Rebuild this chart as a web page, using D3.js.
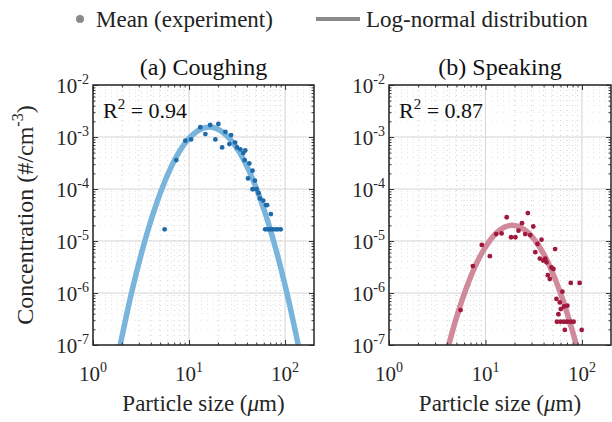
<!DOCTYPE html>
<html>
<head>
<meta charset="utf-8">
<script src="https://cdn.jsdelivr.net/npm/d3@7"></script>
<style>
  body { margin: 0; background: #fff; }
  svg { display: block; font-family: "Liberation Serif", "Times New Roman", serif; }
</style>
</head>
<body>
<svg id="chart" width="612" height="422"></svg>
<script>
const coughX = [5.57, 7.37, 9.14, 10.5, 13.1, 14.8, 16.6, 18.8, 20.2, 22.1, 23.9, 26.3, 27.4, 30.1, 31.6,
  34.2, 36.7, 37.9, 38.5, 41.1, 42.4, 45.8, 45.8, 48.5, 50.4, 52.9, 54.7, 59.2, 63.1, 65.1, 71.1,
  62, 66, 70, 74, 79, 84, 90];
const coughY = [1.68e-5, 3.6e-4, 8.5e-4, 9.0e-4, 1.54e-3, 1.14e-3, 1.70e-3, 9.0e-4, 1.78e-3, 6.3e-4, 1.26e-3, 7.3e-4, 1.09e-3, 7.8e-4, 6.3e-4,
  5.8e-4, 4.9e-4, 3.6e-4, 5.5e-4, 1.6e-4, 3.1e-4, 2.25e-4, 9.9e-5, 1.45e-4, 9.9e-5, 8.3e-5, 6.6e-5, 6.0e-5, 4.9e-5, 4.9e-5, 3.3e-5,
  1.68e-5, 1.68e-5, 1.68e-5, 1.68e-5, 1.68e-5, 1.68e-5, 1.68e-5];

const speakX = [5.52, 7.4, 9.16, 11.1, 12.9, 14.7, 16.6, 18.4, 20.4, 22.0, 23.9, 25.8, 27.5, 29.1, 31.3,
  32.8, 34.6, 36.6, 38.1, 39.6, 41.6, 42.9, 44.3, 46.4, 48.3, 50.6, 52.7, 54.4, 58.9, 62.7, 57.0, 60.4, 65.2, 70.6,
  55, 60, 65, 70, 76, 82, 66.4, 76.5, 94.6, 99.3];
const speakY = [4.7e-7, 3.3e-6, 8.4e-6, 5.1e-6, 1.36e-5, 1.4e-5, 2.86e-5, 1.18e-5, 1.18e-5, 1.58e-5, 2.2e-5, 1.36e-5, 3.45e-5, 1.3e-5, 1.9e-5,
  6.1e-6, 8.8e-6, 4.6e-6, 1.06e-5, 4.2e-6, 4.6e-6, 3.9e-6, 2.2e-6, 1.86e-6, 3.1e-6, 2.9e-6, 7.0e-6, 7.7e-7, 6.6e-7, 1.06e-6, 3.9e-7, 4.9e-7, 5.5e-7, 5.7e-7,
  2.8e-7, 2.8e-7, 2.8e-7, 2.8e-7, 2.8e-7, 2.8e-7, 1.95e-7, 1.56e-6, 1.56e-6, 1.95e-7];

// fitted log-normal curves
const coughFitX = [1.905, 2.51, 3.16, 3.98, 5.01, 6.31, 7.94, 10, 12.6, 16.2, 20, 25.1, 31.6, 39.8, 50.1, 63.1, 79.4, 100, 126, 138];
const coughFitY = [9.3e-8, 9.8e-7, 5.4e-6, 2.37e-5, 8.3e-5, 2.34e-4, 5.26e-4, 9.4e-4, 1.35e-3, 1.55e-3, 1.41e-3, 1.03e-3, 6.0e-4, 2.8e-4, 1.04e-4, 3.1e-5, 7.4e-6, 1.4e-6, 2.1e-7, 9.3e-8];
const speakFitX = [4.17, 5.01, 6.31, 7.94, 10, 12.6, 15.8, 19.1, 25.1, 31.6, 39.8, 50.1, 63.1, 79.4, 89.1];
const speakFitY = [1.02e-7, 3.4e-7, 1.22e-6, 3.47e-6, 7.7e-6, 1.35e-5, 1.85e-5, 2.0e-5, 1.67e-5, 1.11e-5, 5.8e-6, 2.35e-6, 7.5e-7, 1.9e-7, 8.7e-8];

const xMajor = [1, 10, 100];
const yMajor = [1e-7, 1e-6, 1e-5, 1e-4, 1e-3, 1e-2];

const svg = d3.select("#chart");

function minors(majors, hi) {
  const out = [];
  majors.forEach(m => { for (let k = 2; k <= 9; k++) if (m * k < hi) out.push(m * k); });
  return out;
}
const xMinor = minors(xMajor, 200);
const yMinor = minors(yMajor.slice(0, 5), 1e-2);

function pow10Label(sel, v) {
  const e = Math.round(Math.log10(v));
  sel.text("10").append("tspan").attr("dy", -9).attr("font-size", 14).text(e);
}

function drawPanel(o) {
  const x = d3.scaleLog().domain([1, 200]).range([o.left, o.right]);
  const y = d3.scaleLog().domain([1e-7, 1e-2]).range([345, 85]);
  const g = svg.append("g");
  const clipId = "clip" + o.id;
  svg.append("clipPath").attr("id", clipId).append("rect")
    .attr("x", o.left).attr("y", 85).attr("width", o.right - o.left).attr("height", 260);

  // grid
  g.selectAll(".vmin").data(xMinor).enter().append("line")
    .attr("x1", d => x(d)).attr("x2", d => x(d)).attr("y1", 85).attr("y2", 345)
    .attr("stroke", "#cfcfcf").attr("stroke-dasharray", "1,4");
  g.selectAll(".hmin").data(yMinor).enter().append("line")
    .attr("y1", d => y(d)).attr("y2", d => y(d)).attr("x1", o.left).attr("x2", o.right)
    .attr("stroke", "#e2e2e2").attr("stroke-dasharray", "1,5");
  g.selectAll(".vmaj").data(xMajor).enter().append("line")
    .attr("x1", d => x(d)).attr("x2", d => x(d)).attr("y1", 85).attr("y2", 345)
    .attr("stroke", "#d4d4d4");
  g.selectAll(".hmaj").data(yMajor).enter().append("line")
    .attr("y1", d => y(d)).attr("y2", d => y(d)).attr("x1", o.left).attr("x2", o.right)
    .attr("stroke", "#d4d4d4");

  // fit curve
  const line = d3.line().curve(d3.curveCatmullRom).x(d => x(d[0])).y(d => y(d[1]));
  g.append("path").datum(d3.zip(o.fitX, o.fitY))
    .attr("clip-path", `url(#${clipId})`)
    .attr("d", line).attr("fill", "none")
    .attr("stroke", o.lineColor).attr("stroke-width", 5.5).attr("stroke-linecap", "round");

  // points
  g.selectAll(".pt").data(d3.zip(o.ptX, o.ptY)).enter().append("circle")
    .attr("cx", d => x(d[0])).attr("cy", d => y(d[1])).attr("r", 2.4)
    .attr("fill", o.dotColor);

  // axes (ticks inward, mirrored on top/right)
  const axes = [
    [d3.axisBottom(x), `translate(0,345)`, xMajor, xMinor],
    [d3.axisTop(x), `translate(0,85)`, xMajor, xMinor],
    [d3.axisLeft(y), `translate(${o.left},0)`, yMajor, yMinor],
    [d3.axisRight(y), `translate(${o.right},0)`, yMajor, yMinor]
  ];
  axes.forEach(([ax, tr, maj, min]) => {
    g.append("g").attr("transform", tr)
      .call(ax.tickValues(min).tickSize(-2.5).tickFormat(""))
      .call(s => s.select(".domain").remove())
      .selectAll("line").attr("stroke", "#333");
    g.append("g").attr("transform", tr)
      .call(ax.tickValues(maj).tickSize(-5).tickFormat(""))
      .call(s => s.select(".domain").remove())
      .selectAll("line").attr("stroke", "#333");
  });
  g.append("rect").attr("x", o.left).attr("y", 85)
    .attr("width", o.right - o.left).attr("height", 260)
    .attr("fill", "none").attr("stroke", "#262626").attr("stroke-width", 1.5);

  // tick labels
  g.selectAll(".xl").data(xMajor).enter().append("text")
    .attr("x", d => x(d)).attr("y", 381).attr("text-anchor", "middle")
    .attr("font-size", 21).attr("fill", "#262626")
    .each(function (d) { pow10Label(d3.select(this), d); });
  g.selectAll(".yl").data(yMajor).enter().append("text")
    .attr("x", o.left - 4).attr("y", d => y(d) + 8).attr("text-anchor", "end")
    .attr("font-size", 21).attr("fill", "#262626")
    .each(function (d) { pow10Label(d3.select(this), d); });

  // title, R^2, x label
  g.append("text").attr("x", (o.left + o.right) / 2).attr("y", 75)
    .attr("text-anchor", "middle").attr("font-size", 24).attr("fill", "#111").text(o.title);
  const r = g.append("text").attr("x", o.left + 10).attr("y", 118)
    .attr("font-size", 22).attr("fill", "#111").text("R");
  r.append("tspan").attr("dy", -9).attr("font-size", 15).text("2");
  r.append("tspan").attr("dy", 9).text(" = " + o.r2);
  const xl = g.append("text").attr("x", (o.left + o.right) / 2).attr("y", 411)
    .attr("text-anchor", "middle").attr("font-size", 23).attr("fill", "#262626").text("Particle size (");
  xl.append("tspan").attr("font-style", "italic").text("\u03bc");
  xl.append("tspan").text("m)");
}

drawPanel({ id: "a", left: 93, right: 314, title: "(a) Coughing", r2: "0.94",
  ptX: coughX, ptY: coughY, fitX: coughFitX, fitY: coughFitY,
  lineColor: "#79b4dc", dotColor: "#1f6aa8" });
drawPanel({ id: "b", left: 389, right: 611, title: "(b) Speaking", r2: "0.87",
  ptX: speakX, ptY: speakY, fitX: speakFitX, fitY: speakFitY,
  lineColor: "#d18a9c", dotColor: "#a0183c" });

// y label
const yl = svg.append("text").attr("transform", "translate(33,215) rotate(-90)")
  .attr("text-anchor", "middle").attr("font-size", 24).attr("fill", "#262626")
  .text("Concentration (#/cm");
yl.append("tspan").attr("dy", -10).attr("font-size", 16).text("-3");
yl.append("tspan").attr("dy", 10).text(")");

// legend
svg.append("circle").attr("cx", 80).attr("cy", 19).attr("r", 4).attr("fill", "#8a8a8a");
svg.append("text").attr("x", 96).attr("y", 27).attr("font-size", 23).attr("fill", "#222")
  .text("Mean (experiment)");
svg.append("line").attr("x1", 316).attr("x2", 360).attr("y1", 19).attr("y2", 19)
  .attr("stroke", "#8a8a8a").attr("stroke-width", 4);
svg.append("text").attr("x", 366).attr("y", 27).attr("font-size", 23).attr("fill", "#222")
  .text("Log-normal distribution");
</script>
</body>
</html>
